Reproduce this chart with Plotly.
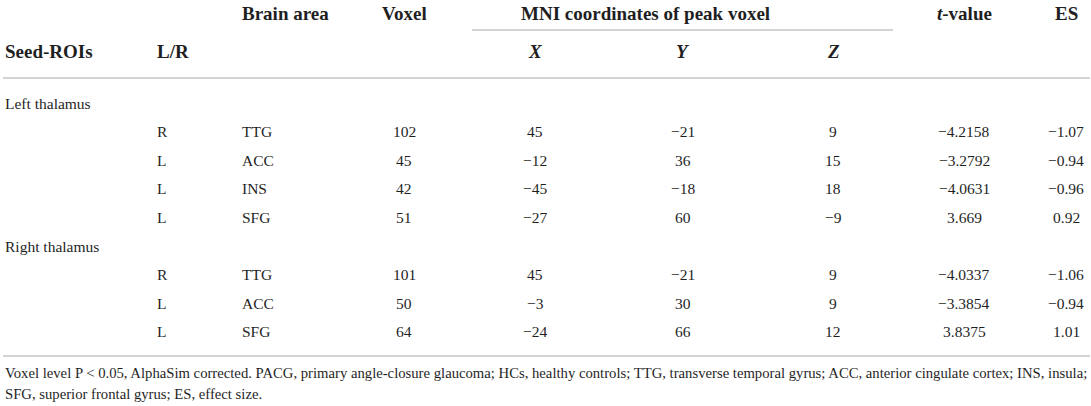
import plotly.graph_objects as go

# ---------------- data ----------------
seed_groups = ["Left thalamus", "Right thalamus"]
group_sizes = [4, 3]
sides = ["R", "L", "L", "L", "R", "L", "L"]
areas = ["TTG", "ACC", "INS", "SFG", "TTG", "ACC", "SFG"]
voxels = [102, 45, 42, 51, 101, 50, 64]
mni_x = [45, -12, -45, -27, 45, -3, -24]
mni_y = [-21, 36, -18, 60, -21, 30, 66]
mni_z = [9, 15, 18, -9, 9, 9, 12]
t_values = ["-4.2158", "-3.2792", "-4.0631", "3.669", "-4.0337", "-3.3854", "3.8375"]
es_values = ["-1.07", "-0.94", "-0.96", "0.92", "-1.06", "-0.94", "1.01"]

header_top = ["Brain area", "Voxel", "MNI coordinates of peak voxel", "<i>t</i>-value", "ES"]
header_sub = ["Seed-ROIs", "L/R", "<i>X</i>", "<i>Y</i>", "<i>Z</i>"]
footnote_lines = [
    "Voxel level P < 0.05, AlphaSim corrected. PACG, primary angle-closure glaucoma; HCs, healthy controls; "
    "TTG, transverse temporal gyrus; ACC, anterior cingulate cortex; INS, insula;",
    "SFG, superior frontal gyrus; ES, effect size.",
]

# ---------------- layout constants ----------------
W, H = 1091, 406
FONT = "Liberation Serif"
TXT = "#1f1f1f"
LINE = "#d4d4d4"
HDR_SIZE = 19
BODY_SIZE = 15.5
FOOT_SIZE = 14.7

col_seed = 3
col_lr = 155
col_area = 240
col_vox = 404
col_x = 535
col_y = 683
col_z = 833
col_t = 964
col_es = 1066
mni_title_x = 645

y_h1 = 13
y_h2 = 51
y_line_mid = 30
y_line_hdr = 78
y_first = 103
row_h = 28.6
y_line_bot = 356
y_foot = [373, 394]


def fmt(v):
    s = str(v)
    return s.replace("-", "\u2212")


ann = []


def add(x, y, text, anchor="center", size=BODY_SIZE, bold=False):
    t = f"<b>{text}</b>" if bold else text
    ann.append(dict(x=x, y=y, xref="x", yref="y", text=t, showarrow=False,
                    xanchor=anchor, yanchor="middle",
                    font=dict(family=FONT, size=size, color=TXT)))


# headers
add(col_area, y_h1, header_top[0], "left", HDR_SIZE, True)
add(col_vox, y_h1, header_top[1], "center", HDR_SIZE, True)
add(mni_title_x, y_h1, header_top[2], "center", HDR_SIZE, True)
add(col_t, y_h1, header_top[3], "center", HDR_SIZE, True)
add(col_es, y_h1, header_top[4], "center", HDR_SIZE, True)
add(col_seed, y_h2, header_sub[0], "left", HDR_SIZE, True)
add(col_lr, y_h2, header_sub[1], "left", HDR_SIZE, True)
add(col_x, y_h2, header_sub[2], "center", HDR_SIZE, True)
add(col_y, y_h2, header_sub[3], "center", HDR_SIZE, True)
add(col_z, y_h2, header_sub[4], "center", HDR_SIZE, True)

# body
row = 0
k = 0
for g, n in zip(seed_groups, group_sizes):
    add(col_seed, y_first + row * row_h, g, "left")
    row += 1
    for _ in range(n):
        y = y_first + row * row_h
        add(col_lr, y, sides[k], "left")
        add(col_area, y, areas[k], "left")
        add(col_vox, y, fmt(voxels[k]))
        add(col_x, y, fmt(mni_x[k]))
        add(col_y, y, fmt(mni_y[k]))
        add(col_z, y, fmt(mni_z[k]))
        add(col_t, y, fmt(t_values[k]))
        add(col_es, y, fmt(es_values[k]))
        row += 1
        k += 1

# footnote
for yy, line in zip(y_foot, footnote_lines):
    add(col_seed, yy, line, "left", FOOT_SIZE)

shapes = [
    dict(type="line", xref="x", yref="y", x0=472, x1=893, y0=y_line_mid, y1=y_line_mid,
         line=dict(color=LINE, width=2)),
    dict(type="line", xref="x", yref="y", x0=3, x1=1090, y0=y_line_hdr, y1=y_line_hdr,
         line=dict(color=LINE, width=2)),
    dict(type="line", xref="x", yref="y", x0=3, x1=1090, y0=y_line_bot, y1=y_line_bot,
         line=dict(color=LINE, width=2)),
]

fig = go.Figure()
fig.add_trace(go.Scatter(x=[0, W], y=[0, H], mode="markers", marker=dict(opacity=0),
                         hoverinfo="skip", showlegend=False))
fig.update_layout(
    width=W, height=H, margin=dict(l=0, r=0, t=0, b=0),
    paper_bgcolor="white", plot_bgcolor="white",
    xaxis=dict(range=[0, W], visible=False, fixedrange=True),
    yaxis=dict(range=[H, 0], visible=False, fixedrange=True),
    annotations=ann, shapes=shapes, showlegend=False,
)
fig.write_html(
    "out.html",
    config={"displayModeBar": False},
    post_script="document.body.style.margin='0';document.body.style.overflow='hidden';",
)
